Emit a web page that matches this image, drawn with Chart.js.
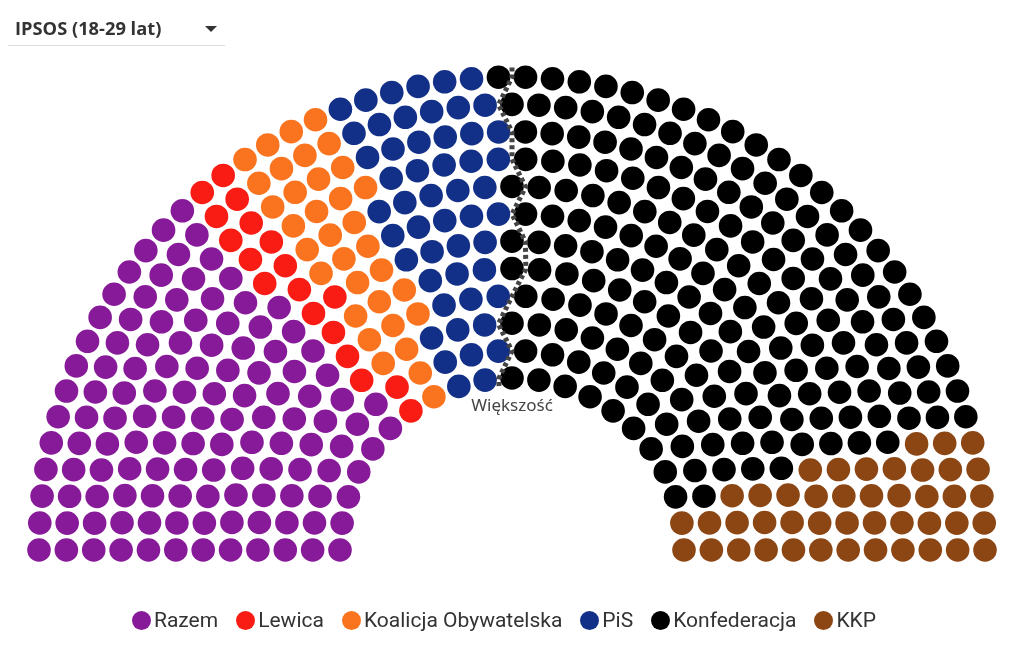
<!DOCTYPE html>
<html>
<head>
<meta charset="utf-8">
<script src="https://cdn.jsdelivr.net/npm/chart.js@4"></script>
<style>
  body { margin: 0; background: #fff; }
  #wrap { position: relative; width: 1024px; height: 662px; overflow: hidden; }
  #sejm { position: absolute; left: 0; top: 0; }
  .pick {
    position: absolute; left: 8px; top: 14px; width: 217px; height: 32px;
    border-bottom: 1px solid #dedede; box-sizing: border-box;
    font: bold 18.3px "Open Sans", sans-serif; color: #333;
  }
  .pick span { position: absolute; left: 7px; top: 1px; }
  .pick i {
    position: absolute; left: 197px; top: 12px; width: 0; height: 0;
    border-left: 6px solid transparent; border-right: 6px solid transparent;
    border-top: 6px solid #333;
  }
  .maj {
    position: absolute; left: 0; width: 1024px; top: 393px; text-align: center;
    font: 17px "Noto Sans", sans-serif; color: #444;
  }
  #legend {
    position: absolute; left: 0; width: 1008px; top: 608px;
    display: flex; justify-content: center; gap: 18px;
    font: 21px Roboto, sans-serif; color: #333;
  }
  #legend div { display: flex; align-items: center; }
  #legend b { width: 19px; height: 19px; border-radius: 50%; margin-right: 3px; display: inline-block; }
</style>
</head>
<body>
<div id="wrap">
  <canvas id="sejm" width="1024" height="662"></canvas>
  <div class="pick"><span>IPSOS (18-29 lat)</span><i></i></div>
  <div class="maj">Większość</div>
  <div id="legend"></div>
</div>
<script>
// ====== DATA ======
const partie = ["Razem", "Lewica", "Koalicja Obywatelska", "PiS", "Konfederacja", "KKP"];
const mandaty = [123, 18, 34, 51, 190, 44];
const kolory = ["#871a98", "#f81c14", "#fa741f", "#133088", "#000000", "#8c4614"];
const wiekszosc = 231;

// ====== UKLAD SALI ======
const RZEDY = 12;
const R_ZEW = 473;
const R_WEW = 172;
const ROZMIAR = 27;   // szerokosc miejsca

// rzedy jak w wykresie "item" z Highcharts: ceil, potem przycinanie nadmiaru
function budujMiejsca(suma){
    let rzedy = [];
    for(let i=0;i<RZEDY;i++){
        const r = R_WEW + (R_ZEW-R_WEW)*i/(RZEDY-1);
        const dl = Math.PI*r;
        rzedy.push({r: r, dl: dl, kol: Math.ceil(dl/ROZMIAR), nr: i});
    }
    let nadmiar = rzedy.reduce((a,w)=>a+w.kol+1,0) - suma;
    while(nadmiar>0){
        rzedy.slice()
            .sort((a,b)=> b.kol/b.dl - a.kol/a.dl)
            .slice(0, Math.min(nadmiar, Math.ceil(rzedy.length/2)))
            .forEach(w=>{ if(nadmiar>0){ w.kol--; nadmiar--; } });
    }

    let miejsca = [];
    rzedy.forEach(w=>{
        for(let j=0;j<=w.kol;j++){
            const kat = Math.PI - Math.PI*j/w.kol;
            miejsca.push({x: w.r*Math.cos(kat), y: w.r*Math.sin(kat), kat: kat, rzad: w.nr});
        }
    });
    miejsca.sort((a,b)=> (b.kat-a.kat) || (b.rzad-a.rzad));
    miejsca.forEach((m,i)=>m.nr=i);
    return miejsca;
}

const suma = mandaty.reduce((a,b)=>a+b,0);
const miejsca = budujMiejsca(suma);

let start = 0;
const zestawy = partie.map((p,i)=>{
    const dane = miejsca.slice(start, start+mandaty[i]);
    start += mandaty[i];
    return {
        label: p,
        data: dane,
        backgroundColor: kolory[i],
        borderWidth: 0,
        pointRadius: 11.8,
        pointHoverRadius: 11.8
    };
});

// linia wiekszosci
const liniaWiekszosci = {
    id: "liniaWiekszosci",
    afterDatasetsDraw(chart){
        const sx = chart.scales.x, sy = chart.scales.y;
        const ctx = chart.ctx;
        let pkt = [];
        for(let r=RZEDY-1;r>=0;r--){
            const wRzedzie = miejsca.filter(m=>m.rzad===r);
            const lewy = wRzedzie.filter(m=>m.nr < wiekszosc-1).pop();
            const prawy = wRzedzie.find(m=>m.nr >= wiekszosc-1);
            if(!lewy || !prawy) continue;
            pkt.push({x:(lewy.x+prawy.x)/2, y:(lewy.y+prawy.y)/2});
        }
        // przedluzenie na koncach
        const krok = (R_ZEW-R_WEW)/(RZEDY-1)/2;
        const pierw = pkt[0], ost = pkt[pkt.length-1];
        const d1 = Math.hypot(pierw.x,pierw.y), d2 = Math.hypot(ost.x,ost.y);
        pkt.unshift({x:pierw.x*(d1+krok*0.7)/d1, y:pierw.y*(d1+krok*0.7)/d1});
        pkt.push({x:ost.x*(d2-krok*0.7)/d2, y:ost.y*(d2-krok*0.7)/d2});

        ctx.save();
        ctx.strokeStyle = "#444";
        ctx.lineWidth = 5;
        ctx.setLineDash([4,3]);
        ctx.lineJoin = "round";
        ctx.beginPath();
        pkt.forEach((p,i)=>{
            const px = sx.getPixelForValue(p.x), py = sy.getPixelForValue(p.y);
            if(i===0) ctx.moveTo(px,py); else ctx.lineTo(px,py);
        });
        ctx.stroke();
        ctx.restore();
    }
};

new Chart(document.getElementById("sejm"), {
    type: "scatter",
    data: { datasets: zestawy },
    options: {
        responsive: false,
        animation: false,
        layout: { padding: 0, autoPadding: false },
        plugins: { legend: { display: false }, tooltip: { enabled: false } },
        scales: {
            x: { display: false, min: -512, max: 512 },
            y: { display: false, min: -112, max: 550 }
        }
    },
    plugins: [liniaWiekszosci]
});

// legenda
const leg = document.getElementById("legend");
partie.forEach((p,i)=>{
    const d = document.createElement("div");
    d.innerHTML = '<b style="background:'+kolory[i]+'"></b>'+p;
    leg.appendChild(d);
});
</script>
</body>
</html>
